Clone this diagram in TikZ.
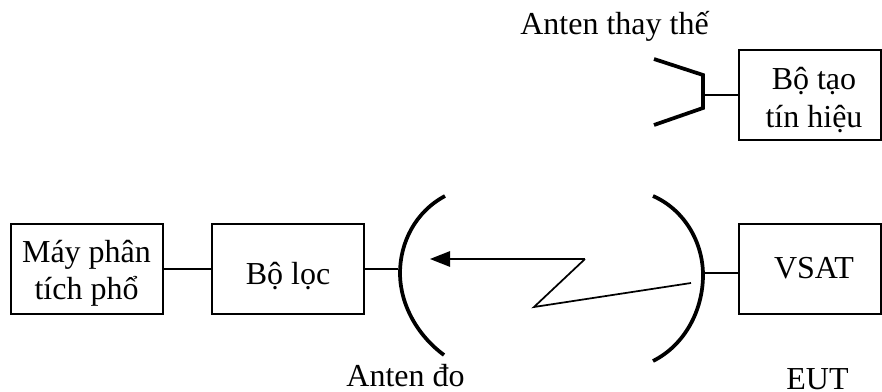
\documentclass[tikz,border=0pt]{standalone}
\usepackage{fontspec}
\setmainfont{Liberation Serif}
\usetikzlibrary{arrows.meta}

\tikzset{
	blockbox/.style={draw, line width=1.3pt, minimum width=114pt, minimum height=67.5pt, inner sep=0pt},
	blocktext/.style={inner sep=0pt, align=center},
	caption/.style={inner sep=0pt, anchor=base},
	thin line/.style={line width=1.3pt},
	thick line/.style={line width=2.8pt}
}

\begin{document}
\begin{tikzpicture}[x=0.75pt, y=-0.75pt, font=\fontsize{24}{28}\selectfont]
	\useasboundingbox (0,0) rectangle (882,392);

	% blocks
	\node[blockbox] (analyzer) at (87,269) {};
	\node[blockbox] (filter) at (288,269) {};
	\node[blockbox, minimum width=107pt] (vsat) at (810,269) {};
	\node[blockbox, minimum width=107pt] (generator) at (810,95) {};
	\node[blocktext] (analyzertext) at (86.5,273) {Máy phân\\tích phổ};
	\node[blocktext] (filtertext) at (288,276) {Bộ lọc};
	\node[blocktext] (vsattext) at (814,268) {VSAT};
	\node[blocktext] (generatortext) at (814,100) {Bộ tạo\\tín hiệu};

	% captions
	\node[caption] (subst) at (614.5,35) {Anten thay thế};
	\node[caption] (meas) at (405.5,386) {Anten đo};
	\node[caption] (eut) at (817.5,389) {EUT};

	% substitute horn
	\coordinate (horn) at (703,95);
	\draw[thick line, line join=miter] (654,59) -- (703,75) -- (703,108) -- (654,125);
	\draw[thin line] (horn) -- (generator.west);

	% measuring antennas
	\coordinate (arcl) at (398,269);
	\coordinate (arcr) at (704,273);
	\draw[thick line] (445,196) .. controls (415,212) and (400,243) .. (400,273)
		.. controls (400,305) and (418,336) .. (444,355);
	\draw[thick line] (653,196) .. controls (685,210) and (703,243) .. (703,275)
		.. controls (703,310) and (685,345) .. (653,361);
	\draw[thin line] (analyzer) -- (filter);
	\draw[thin line] (filter) -- (arcl);
	\draw[thin line] (arcr) -- (arcr -| vsat.west);

	% radio link
	\coordinate (tip) at (430,259);
	\coordinate (knee) at (585,259);
	\coordinate (foot) at (534,307);
	\coordinate (start) at (691,283);
	\draw[thin line, line join=miter] (start) -- (foot) -- (knee);
	\draw[-{Triangle[length=15pt, width=11.5pt]}, line width=1.5pt] (knee) -- (tip);
\end{tikzpicture}
\end{document}
